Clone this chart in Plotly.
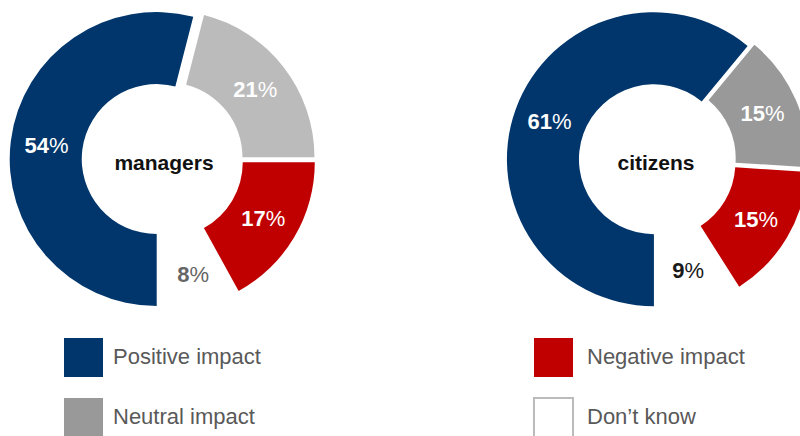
import plotly.graph_objects as go

# Survey answers: share of respondents per impact category
categories = ["Positive impact", "Neutral impact", "Negative impact", "Don\u2019t know"]
managers_values = [54, 21, 17, 8]
citizens_values = [61, 15, 15, 9]
group_names = ["managers", "citizens"]

BLUE = "#00366C"
RED = "#C00000"
GREY = "#999999"
LIGHT_GREY = "#BBBBBB"
WHITE = "#FFFFFF"

FONT = "Liberation Sans, Arial, Helvetica, sans-serif"

W, H = 820, 436          # page is 800 wide; the right donut runs off its edge


def fx(px):
    return px / W


def fy(py):
    return 1 - py / H


def pie_domain(cx, cy, radius, max_pull):
    half = radius * (1 + max_pull)
    return dict(x=[fx(cx - half), fx(cx + half)], y=[fy(cy + half), fy(cy - half)])


def donut(values, name, colors, text_colors, pulls, domain):
    return go.Pie(
        labels=categories,
        values=values,
        sort=False,
        direction="clockwise",
        rotation=180,
        hole=0.51,
        pull=pulls,
        marker=dict(colors=colors, line=dict(width=0)),
        text=[f"<b>{v}</b>%" for v in values],
        textinfo="text",
        textposition="inside",
        insidetextorientation="horizontal",
        textfont=dict(family=FONT, size=22, color=text_colors),
        title=dict(text=name, position="middle center",
                   font=dict(family=FONT, size=21, color="#111111", weight="bold")),
        domain=domain,
        showlegend=False,
        hoverinfo="skip",
    )


fig = go.Figure()
fig.add_trace(donut(
    managers_values, group_names[0],
    [BLUE, LIGHT_GREY, RED, WHITE],
    [WHITE, WHITE, WHITE, "#666666"],
    [0.05, 0.03, 0.03, 0],
    pie_domain(164, 160, 147, 0.05),
))
fig.add_trace(donut(
    citizens_values, group_names[1],
    [BLUE, GREY, RED, WHITE],
    [WHITE, WHITE, WHITE, "#1A1A1A"],
    [0.015, 0.035, 0.035, 0],
    pie_domain(656, 160, 147, 0.035),
))

# Legend: large swatches with labels, two columns
legend_items = [
    (categories[0], BLUE, BLUE, 64, 338, 111),
    (categories[1], GREY, GREY, 64, 398, 111),
    (categories[2], RED, RED, 534, 338, 585),
    (categories[3], WHITE, "#BBBBBB", 534, 398, 585),
]
shapes = []
annotations = []
for label, fill, line, x0, y0, tx in legend_items:
    shapes.append(dict(
        type="rect", xref="paper", yref="paper",
        x0=fx(x0), x1=fx(x0 + 39), y0=fy(y0 + 39), y1=fy(y0),
        fillcolor=fill,
        line=dict(color=line, width=2 if fill == WHITE else 0),
    ))
    annotations.append(dict(
        text=label, xref="paper", yref="paper",
        x=fx(tx), y=fy(y0 + 18), xanchor="left", yanchor="middle",
        showarrow=False,
        font=dict(family=FONT, size=22, color="#595959"),
    ))

fig.update_layout(
    width=W, height=H,
    margin=dict(l=0, r=0, t=0, b=0),
    paper_bgcolor="white",
    plot_bgcolor="white",
    shapes=shapes,
    annotations=annotations,
)

fig.write_html(
    "out.html",
    post_script="document.documentElement.style.overflow='hidden';"
                "document.body.style.overflow='hidden';",
)
